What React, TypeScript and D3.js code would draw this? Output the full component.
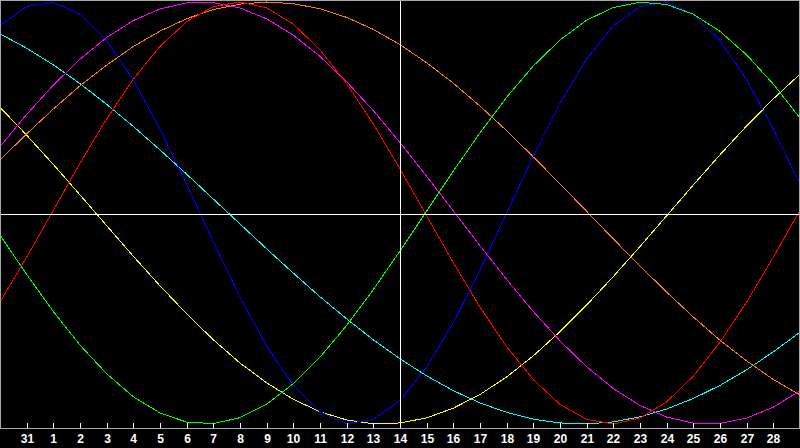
import * as d3 from "d3";

// Biorhythm-style chart: 31 daily points per cycle, values in [-1, 1].
// Index 0 is the left frame edge (day 30), index 30 the right edge (day 29).
const DAY_LABELS = [
  "31", "1", "2", "3", "4", "5", "6", "7", "8", "9", "10", "11", "12", "13", "14",
  "15", "16", "17", "18", "19", "20", "21", "22", "23", "24", "25", "26", "27", "28",
];

const BLUE = [
  0.888, 0.979, 0.998, 0.942, 0.817, 0.631, 0.398, 0.136, -0.136, -0.398, -0.631,
  -0.817, -0.942, -0.998, -0.979, -0.888, -0.731, -0.52, -0.27, 0.0, 0.27, 0.52,
  0.731, 0.888, 0.979, 0.998, 0.942, 0.817, 0.631, 0.398, 0.136,
];
const RED = [
  -0.422, -0.209, 0.013, 0.236, 0.446, 0.634, 0.79, 0.907, 0.978, 1.0, 0.972,
  0.895, 0.773, 0.613, 0.422, 0.209, -0.013, -0.236, -0.446, -0.634, -0.79, -0.907,
  -0.978, -1.0, -0.972, -0.895, -0.773, -0.613, -0.422, -0.209, 0.013,
];
const GREEN = [
  -0.105, -0.291, -0.467, -0.626, -0.762, -0.871, -0.948, -0.991, -0.998, -0.97,
  -0.906, -0.809, -0.683, -0.533, -0.363, -0.18, 0.01, 0.199, 0.38, 0.549, 0.697,
  0.82, 0.914, 0.974, 0.999, 0.988, 0.942, 0.861, 0.749, 0.611, 0.45,
];
const MAGENTA = [
  0.315, 0.467, 0.606, 0.729, 0.832, 0.912, 0.967, 0.996, 0.997, 0.972, 0.92,
  0.843, 0.742, 0.622, 0.485, 0.334, 0.174, 0.01, -0.155, -0.315, -0.467, -0.606,
  -0.729, -0.832, -0.912, -0.967, -0.996, -0.997, -0.972, -0.92, -0.843,
];
const ORANGE = [
  0.251, 0.375, 0.493, 0.603, 0.701, 0.789, 0.862, 0.921, 0.964, 0.99, 1.0, 0.992,
  0.968, 0.927, 0.87, 0.798, 0.712, 0.615, 0.507, 0.39, 0.266, 0.138, 0.008,
  -0.123, -0.251, -0.375, -0.493, -0.603, -0.701, -0.789, -0.862,
];
const CYAN = [
  0.849, 0.781, 0.702, 0.613, 0.515, 0.41, 0.299, 0.184, 0.066, -0.052, -0.17,
  -0.285, -0.397, -0.502, -0.601, -0.691, -0.772, -0.842, -0.9, -0.945, -0.977,
  -0.995, -1.0, -0.99, -0.966, -0.929, -0.879, -0.817, -0.743, -0.658, -0.565,
];
const YELLOW = [
  0.501, 0.369, 0.23, 0.086, -0.06, -0.205, -0.345, -0.478, -0.601, -0.711, -0.805,
  -0.883, -0.942, -0.981, -0.999, -0.995, -0.971, -0.925, -0.86, -0.777, -0.677,
  -0.562, -0.436, -0.301, -0.159, -0.013, 0.133, 0.276, 0.413, 0.541, 0.658,
];

const SERIES = [
  { key: "cyan", color: "#00ffff", values: CYAN },
  { key: "yellow", color: "#ffff00", values: YELLOW },
  { key: "orange", color: "#ff8000", values: ORANGE },
  { key: "magenta", color: "#ff00ff", values: MAGENTA },
  { key: "red", color: "#ff0000", values: RED },
  { key: "blue", color: "#0000ff", values: BLUE },
  { key: "green", color: "#00ff00", values: GREEN },
];

const TODAY_INDEX = 15;

const W = 800;
const H = 448;
const PLOT_H = 428;

export default function App() {
  const x = d3.scaleLinear().domain([0, 30]).range([0, W]);
  const y = d3.scaleLinear().domain([-1, 1]).range([424, 2]);
  const line = d3
    .line<number>()
    .x((_, i) => x(i))
    .y((d) => y(d));

  const ticks = DAY_LABELS.map((lab, k) => ({ lab, i: k + 1 }));
  const frame = "#a8a8a8";

  return (
    <svg
      width={W}
      height={H}
      style={{ position: "fixed", left: 0, top: 0, display: "block", background: "#000" }}
    >
      <rect x={0} y={0} width={W} height={H} fill="#000" />
      <g shapeRendering="crispEdges" fill="none" strokeWidth={1}>
        {SERIES.map((s) => (
          <path key={s.key} d={line(s.values) ?? ""} stroke={s.color} />
        ))}
      </g>
      <g shapeRendering="crispEdges" strokeWidth={1}>
        {/* centre line + today marker */}
        <line x1={0} x2={W} y1={PLOT_H / 2 + 0.5} y2={PLOT_H / 2 + 0.5} stroke="#fff" />
        <line
          x1={Math.round(x(TODAY_INDEX)) + 0.5}
          x2={Math.round(x(TODAY_INDEX)) + 0.5}
          y1={0}
          y2={PLOT_H}
          stroke="#fff"
        />
        {/* frame */}
        <line x1={0} x2={W} y1={0.5} y2={0.5} stroke={frame} />
        <line x1={0.5} x2={0.5} y1={0} y2={PLOT_H} stroke={frame} />
        <line x1={W - 0.5} x2={W - 0.5} y1={0} y2={PLOT_H} stroke={frame} />
        <line x1={0} x2={W} y1={PLOT_H + 0.5} y2={PLOT_H + 0.5} stroke={frame} />
        {ticks.map((t) => (
          <line
            key={t.i}
            x1={Math.round(x(t.i)) + 0.5}
            x2={Math.round(x(t.i)) + 0.5}
            y1={PLOT_H - 5}
            y2={PLOT_H}
            stroke="#fff"
          />
        ))}
      </g>
      <g
        fill="#fff"
        fontFamily="'Liberation Sans', Arial, sans-serif"
        fontWeight="bold"
        fontSize={12}
        textAnchor="middle"
      >
        {ticks.map((t) => (
          <text key={t.i} x={Math.round(x(t.i)) + 0.5} y={443}>
            {t.lab}
          </text>
        ))}
      </g>
    </svg>
  );
}
